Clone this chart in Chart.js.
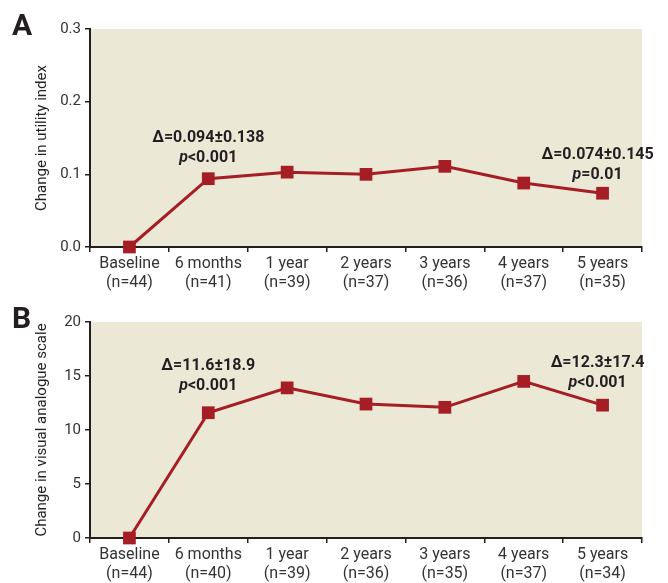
<!DOCTYPE html>
<html>
<head>
<meta charset="utf-8">
<script src="https://cdn.jsdelivr.net/npm/chart.js@4.4.0/dist/chart.umd.min.js"></script>
<style>
body { margin: 0; background: #fff; width: 668px; height: 583px; overflow: hidden; position: relative; }
.panel { position: absolute; left: 0; width: 668px; height: 292px; }
.letter { position: absolute; font: bold 30px Roboto, sans-serif; color: #231f20; }
</style>
</head>
<body>
<div class="panel" style="top:0"><canvas id="chartA" width="668" height="292"></canvas></div>
<div class="panel" style="top:291px"><canvas id="chartB" width="668" height="292"></canvas></div>
<div class="letter" style="left:12px;top:7px">A</div>
<div class="letter" style="left:12px;top:300px">B</div>
<script>
var categories = ['Baseline', '6 months', '1 year', '2 years', '3 years', '4 years', '5 years'];
var utilityN = [44, 41, 39, 37, 36, 37, 35];
var vasN = [44, 40, 39, 36, 35, 37, 34];
var utilityChange = [0, 0.094, 0.103, 0.100, 0.111, 0.088, 0.074];
var vasChange = [0, 11.6, 13.9, 12.4, 12.1, 14.5, 12.3];
var utilityTicks = [0, 0.1, 0.2, 0.3];
var vasTicks = [0, 5, 10, 15, 20];

// text notes: which point, where the first line sits (axis value), the texts
var utilityNotes = [
    { index: 1, value: 0.150, dx: 0, delta: 'Δ=0.094±0.138', p: '<0.001' },
    { index: 6, value: 0.127, dx: -5, delta: 'Δ=0.074±0.145', p: '=0.01' }
];
var vasNotes = [
    { index: 1, value: 15.9, dx: 0, delta: 'Δ=11.6±18.9', p: '<0.001' },
    { index: 6, value: 16.25, dx: -5, delta: 'Δ=12.3±17.4', p: '<0.001' }
];

var FONT = 'Roboto, sans-serif';
var ink = '#231f20';
var red = '#a51d25';

var notesPlugin = {
    id: 'notes',
    beforeDraw: function (chart) {
        var a = chart.chartArea, ctx = chart.ctx;
        ctx.save();
        ctx.fillStyle = '#ece8d6';
        ctx.fillRect(a.left, a.top, a.right - a.left, a.bottom - a.top);
        ctx.restore();
    },
    afterDatasetsDraw: function (chart, args, opts) {
        var ctx = chart.ctx, xs = chart.scales.x, ys = chart.scales.y;
        var bold = 'bold 16px ' + FONT, ital = 'italic bold 16px ' + FONT;
        (opts.notes || []).forEach(function (n) {
            var x = xs.getPixelForValue(n.index) + n.dx;
            var y = ys.getPixelForValue(n.value);
            ctx.save();
            ctx.fillStyle = ink;
            ctx.textBaseline = 'middle';
            ctx.textAlign = 'left';
            ctx.font = bold;
            var w1 = ctx.measureText(n.delta).width;
            ctx.fillText(n.delta, x - w1 / 2, y);
            var wr = ctx.measureText(n.p).width;
            ctx.font = ital;
            var wp = ctx.measureText('p').width;
            var sx = x - (wp + wr) / 2;
            ctx.fillText('p', sx, y + 20);
            ctx.font = bold;
            ctx.fillText(n.p, sx + wp, y + 20);
            ctx.restore();
        });
    }
};

function makeChart(id, values, counts, ticks, decimals, yTitle, notes, padTop) {
    var labels = categories.map(function (c, i) { return [c, '(n=' + counts[i] + ')']; });
    return new Chart(document.getElementById(id), {
        type: 'line',
        data: {
            labels: labels,
            datasets: [{
                data: values,
                borderColor: red,
                backgroundColor: red,
                borderWidth: 3,
                pointStyle: 'rect',
                pointRadius: 9,
                pointHoverRadius: 9,
                pointBorderWidth: 0,
                tension: 0,
                clip: false
            }]
        },
        options: {
            responsive: false,
            animation: false,
            events: [],
            layout: { padding: { top: padTop, right: 26, left: 0, bottom: 0 } },
            plugins: {
                legend: { display: false },
                tooltip: { enabled: false },
                notes: { notes: notes }
            },
            scales: {
                x: {
                    offset: true,
                    grid: { offset: true, drawOnChartArea: false, tickLength: 5, color: ink, lineWidth: 1.5 },
                    border: { color: ink, width: 2 },
                    ticks: { color: '#333', font: { family: FONT, size: 16 }, padding: 2, maxRotation: 0, autoSkip: false },
                    afterFit: function (s) { s.height = 45; }
                },
                y: {
                    min: ticks[0],
                    max: ticks[ticks.length - 1],
                    afterBuildTicks: function (s) { s.ticks = ticks.map(function (v) { return { value: v }; }); },
                    grid: { drawOnChartArea: false, tickLength: 5, color: ink, lineWidth: 1.5 },
                    border: { color: ink, width: 2 },
                    ticks: {
                        color: '#333',
                        font: { family: FONT, size: 15 },
                        padding: 4,
                        callback: function (v) { return Number(v).toFixed(decimals); }
                    },
                    title: {
                        display: true,
                        text: yTitle,
                        color: ink,
                        font: { family: FONT, size: 15 },
                        padding: { top: 33, bottom: 0 }
                    },
                    afterFit: function (s) { s.width = 90; }
                }
            }
        },
        plugins: [notesPlugin]
    });
}

makeChart('chartA', utilityChange, utilityN, utilityTicks, 1, 'Change in utility index', utilityNotes, 29);
makeChart('chartB', vasChange, vasN, vasTicks, 0, 'Change in visual analogue scale', vasNotes, 31);
</script>
</body>
</html>
